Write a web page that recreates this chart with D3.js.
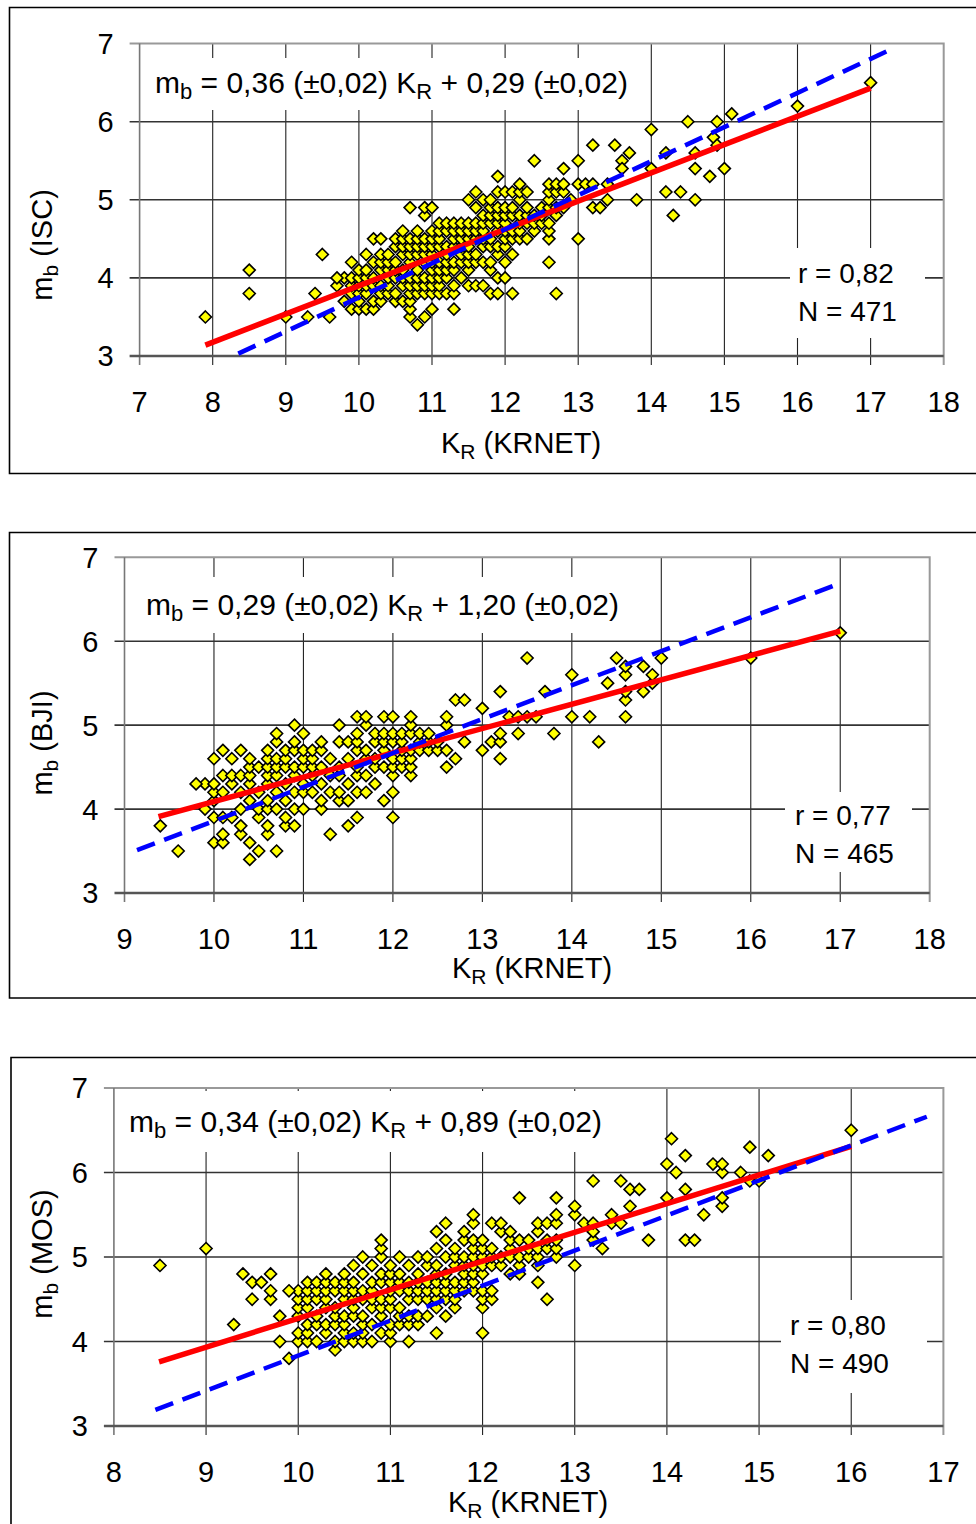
<!DOCTYPE html>
<html>
<head>
<meta charset="utf-8">
<script src="https://cdn.jsdelivr.net/npm/d3@7"></script>
<style>
	body { margin: 0; background: #fff; }
	svg { display: block; font-family: "Liberation Sans", Arial, sans-serif; }
</style>
</head>
<body>
<div id="chart"></div>
<script>
/*
 * mb vs KR (KRNET) scatter plots, three agencies (ISC, BJI, MOS)
 * dense part of each cloud is typed as columns [KR, [mb values]]
 */

// ---- ISC ----
const iscCols = [
	[9.8, [3.7, 4.0]],
	[9.9, [3.6, 3.8, 3.9, 4.0, 4.2]],
	[10.0, [3.6, 3.7, 3.8, 3.9, 4.0, 4.1]],
	[10.1, [3.6, 3.8, 3.9, 4.0, 4.1, 4.3]],
	[10.2, [3.6, 3.7, 3.9, 4.0, 4.2, 4.5]],
	[10.3, [3.7, 3.8, 3.9, 4.1, 4.2, 4.3, 4.5]],
	[10.4, [3.8, 3.9, 4.0, 4.1, 4.2, 4.3]],
	[10.5, [3.7, 3.8, 4.0, 4.1, 4.2, 4.4, 4.5]],
	[10.6, [3.7, 3.9, 4.0, 4.1, 4.3, 4.4, 4.5, 4.6]],
	[10.7, [3.5, 3.6, 3.7, 3.8, 3.9, 4.0, 4.2, 4.3, 4.4, 4.5, 4.9]],
	[10.8, [3.4, 3.8, 3.9, 4.0, 4.1, 4.3, 4.4, 4.5, 4.6]],
	[10.9, [3.5, 3.8, 3.9, 4.0, 4.2, 4.3, 4.4, 4.5, 4.8, 4.9]],
	[11.0, [3.6, 3.8, 3.9, 4.0, 4.1, 4.2, 4.3, 4.4, 4.5, 4.6, 4.9]],
	[11.1, [3.8, 3.9, 4.0, 4.1, 4.2, 4.4, 4.5, 4.6, 4.7]],
	[11.2, [3.8, 4.0, 4.1, 4.2, 4.3, 4.4, 4.6, 4.7]],
	[11.3, [3.6, 3.8, 3.9, 4.1, 4.2, 4.4, 4.5, 4.6, 4.7]],
	[11.4, [4.0, 4.2, 4.3, 4.4, 4.5, 4.6, 4.7]],
	[11.5, [3.9, 4.1, 4.2, 4.3, 4.4, 4.5, 4.6, 4.7, 5.0]],
	[11.6, [3.9, 4.2, 4.3, 4.5, 4.6, 4.7, 4.9, 5.1]],
	[11.7, [3.9, 4.2, 4.4, 4.5, 4.6, 4.7, 4.8, 5.0]],
	[11.8, [3.8, 4.1, 4.2, 4.4, 4.5, 4.7, 4.8, 4.9, 5.0]],
	[11.9, [3.8, 4.0, 4.3, 4.4, 4.6, 4.7, 4.8, 4.9, 5.1, 5.3]],
	[12.0, [4.0, 4.2, 4.4, 4.5, 4.6, 4.7, 4.8, 4.9, 5.1]],
	[12.1, [3.8, 4.3, 4.5, 4.6, 4.8, 4.9, 5.1]],
	[12.2, [4.5, 4.6, 4.7, 4.8, 5.0, 5.1, 5.2]],
	[12.3, [4.5, 4.7, 4.8, 4.9, 5.1]],
	[12.4, [4.6, 4.7, 4.8, 5.5]],
	[12.5, [4.7, 4.8, 4.9]],
	[12.6, [4.2, 4.5, 4.6, 4.7, 4.9, 5.0, 5.1, 5.2]],
	[12.7, [3.8, 4.8, 4.9, 5.1, 5.2]],
	[12.8, [4.9, 5.1, 5.2, 5.4]]
];
const iscPts = [
	[7.9, 3.5], [8.5, 4.1], [8.5, 3.8], [9.0, 3.5], [9.3, 3.5], [9.4, 3.8], [9.5, 4.3],
	[9.6, 3.5], [9.7, 3.9], [9.7, 4.0],
	[12.9, 5.0], [13.0, 5.5], [13.0, 5.2], [13.0, 4.5], [13.1, 5.2], [13.2, 5.7], [13.2, 5.2],
	[13.2, 4.9], [13.3, 4.9], [13.4, 5.0], [13.4, 5.2], [13.5, 5.7], [13.6, 5.5], [13.6, 5.4],
	[13.7, 5.6], [13.8, 5.0], [14.0, 5.9], [14.0, 5.4], [14.2, 5.6], [14.2, 5.1], [14.3, 4.8],
	[14.4, 5.1], [14.5, 6.0], [14.6, 5.6], [14.6, 5.4], [14.6, 5.0], [14.8, 5.3], [14.85, 5.8],
	[14.9, 5.7], [14.9, 6.0], [15.0, 5.4], [15.1, 6.1], [16.0, 6.2], [17.0, 6.5]
];
const iscFit = [[7.9, 3.14], [17.0, 6.43]];
const iscDash = [[8.35, 3.03], [17.22, 6.9]];

// ---- BJI ----
const bjiCols = [
	[9.9, [4.0, 4.3]],
	[10.0, [3.6, 3.9, 4.1, 4.2, 4.3, 4.6]],
	[10.1, [3.6, 3.7, 3.9, 4.2, 4.4, 4.7]],
	[10.2, [3.9, 4.3, 4.4, 4.6]],
	[10.3, [3.7, 3.8, 4.0, 4.2, 4.4, 4.7]],
	[10.4, [3.4, 3.6, 4.1, 4.3, 4.4, 4.5, 4.6]],
	[10.5, [3.5, 3.9, 4.0, 4.2, 4.5]],
	[10.6, [3.7, 3.8, 4.0, 4.1, 4.3, 4.4, 4.5, 4.6, 4.7]],
	[10.7, [3.5, 4.0, 4.2, 4.4, 4.5, 4.6, 4.8, 4.9]],
	[10.8, [3.8, 3.9, 4.1, 4.3, 4.5, 4.6, 4.7]],
	[10.9, [3.8, 4.0, 4.2, 4.4, 4.5, 4.7, 4.8, 5.0]],
	[11.0, [4.0, 4.2, 4.3, 4.5, 4.6, 4.7, 4.9]],
	[11.1, [4.2, 4.4, 4.5, 4.6, 4.7]],
	[11.2, [4.0, 4.1, 4.3, 4.5, 4.7, 4.8]],
	[11.3, [3.7, 4.2, 4.4, 4.6]],
	[11.4, [4.1, 4.2, 4.4, 4.5, 4.8, 5.0]],
	[11.5, [3.8, 4.1, 4.3, 4.6, 4.8]],
	[11.6, [3.9, 4.2, 4.4, 4.5, 4.7, 4.8, 4.9, 5.1]],
	[11.7, [4.2, 4.4, 4.6, 4.7, 5.0, 5.1]],
	[11.8, [4.3, 4.5, 4.6, 4.8, 4.9]],
	[11.9, [4.1, 4.5, 4.7, 4.8, 4.9, 5.1]],
	[12.0, [3.9, 4.2, 4.4, 4.5, 4.6, 4.8, 4.9, 5.1]],
	[12.1, [4.5, 4.6, 4.7, 4.8, 4.9]],
	[12.2, [4.4, 4.5, 4.6, 4.7, 4.9, 5.0, 5.1]],
	[12.3, [4.7, 4.8, 4.9]],
	[12.4, [4.7, 4.8, 4.9]],
	[12.5, [4.7, 4.8]]
];
const bjiPts = [
	[9.4, 3.8], [9.6, 3.5], [9.8, 4.3],
	[12.6, 4.5], [12.6, 4.7], [12.6, 5.0], [12.6, 5.1], [12.7, 4.6], [12.7, 5.3], [12.8, 4.8],
	[12.8, 5.3], [13.0, 4.7], [13.0, 5.2], [13.1, 4.8], [13.2, 4.6], [13.2, 4.8], [13.2, 4.9],
	[13.2, 5.4], [13.3, 5.1], [13.4, 4.9], [13.4, 5.1], [13.5, 5.1], [13.5, 5.8], [13.6, 5.1],
	[13.7, 5.4], [13.8, 4.9], [14.0, 5.1], [14.0, 5.6], [14.2, 5.1], [14.3, 4.8], [14.4, 5.5],
	[14.5, 5.8], [14.6, 5.1], [14.6, 5.3], [14.6, 5.4], [14.6, 5.6], [14.6, 5.7], [14.8, 5.4],
	[14.8, 5.7], [14.9, 5.5], [14.9, 5.6], [15.0, 5.8], [16.0, 5.8], [17.0, 6.1]
];
const bjiFit = [[9.38, 3.91], [17.0, 6.12]];
const bjiDash = [[9.14, 3.51], [17.0, 6.69]];

// ---- MOS ----
const mosCols = [
	[10.0, [4.0, 4.1, 4.3, 4.4, 4.5, 4.6]],
	[10.1, [4.0, 4.1, 4.2, 4.4, 4.5, 4.6, 4.7]],
	[10.2, [4.0, 4.2, 4.3, 4.5, 4.6, 4.7]],
	[10.3, [4.1, 4.2, 4.4, 4.5, 4.6, 4.7, 4.8]],
	[10.4, [3.9, 4.0, 4.2, 4.3, 4.4, 4.6, 4.7]],
	[10.5, [4.0, 4.1, 4.2, 4.3, 4.5, 4.6, 4.7, 4.8]],
	[10.6, [4.0, 4.1, 4.3, 4.4, 4.5, 4.6, 4.7, 4.9]],
	[10.7, [4.0, 4.1, 4.2, 4.3, 4.5, 4.6, 4.8, 5.0]],
	[10.8, [4.0, 4.2, 4.4, 4.5, 4.6, 4.7, 4.9]],
	[10.9, [4.1, 4.3, 4.4, 4.5, 4.7, 4.8, 5.0, 5.1, 5.2]],
	[11.0, [4.0, 4.1, 4.2, 4.4, 4.5, 4.6, 4.7, 4.8, 4.9]],
	[11.1, [4.2, 4.3, 4.4, 4.6, 4.7, 4.8, 5.0]],
	[11.2, [4.0, 4.2, 4.3, 4.5, 4.6, 4.7, 4.9]],
	[11.3, [4.2, 4.3, 4.5, 4.6, 4.7, 4.8, 5.0]],
	[11.4, [4.3, 4.5, 4.6, 4.7, 4.9, 5.0]],
	[11.5, [4.1, 4.4, 4.5, 4.6, 4.7, 4.8, 4.9, 5.1, 5.3]],
	[11.6, [4.3, 4.5, 4.6, 4.7, 4.8, 5.0, 5.2, 5.4]],
	[11.7, [4.4, 4.5, 4.6, 4.7, 4.9, 5.0, 5.1]],
	[11.8, [4.6, 4.7, 4.8, 4.9, 5.0, 5.2, 5.3]],
	[11.9, [4.6, 4.7, 4.8, 4.9, 5.0, 5.1, 5.2, 5.4, 5.5]],
	[12.0, [4.1, 4.4, 4.5, 4.6, 4.8, 4.9, 5.0, 5.1, 5.2]],
	[12.1, [4.5, 4.6, 4.9, 5.0, 5.1, 5.4]],
	[12.2, [4.9, 5.0, 5.3, 5.4]],
	[12.3, [4.8, 5.0, 5.1, 5.2, 5.3]],
	[12.4, [4.8, 4.9, 5.0, 5.2, 5.7]],
	[12.5, [5.0, 5.1, 5.2]],
	[12.6, [4.7, 4.9, 5.0, 5.1, 5.3, 5.4]],
	[12.7, [4.5, 5.1, 5.2, 5.4]],
	[12.8, [5.0, 5.1, 5.2, 5.4, 5.5, 5.7]]
];
const mosPts = [
	[8.5, 4.9], [9.0, 5.1], [9.3, 4.2], [9.4, 4.8], [9.5, 4.5], [9.5, 4.7], [9.6, 4.7],
	[9.7, 4.5], [9.7, 4.6], [9.7, 4.8], [9.8, 4.0], [9.8, 4.3], [9.9, 3.8], [9.9, 4.6],
	[13.0, 4.9], [13.0, 5.5], [13.0, 5.6], [13.1, 5.4], [13.2, 5.2], [13.2, 5.3], [13.2, 5.4],
	[13.2, 5.9], [13.3, 5.1], [13.4, 5.4], [13.4, 5.5], [13.5, 5.4], [13.5, 5.9], [13.6, 5.6],
	[13.6, 5.8], [13.7, 5.8], [13.8, 5.2], [14.0, 5.7], [14.0, 6.1], [14.05, 6.4], [14.1, 6.0],
	[14.2, 5.2], [14.2, 5.8], [14.2, 6.2], [14.3, 5.2], [14.4, 5.5], [14.5, 6.1], [14.6, 5.6],
	[14.6, 5.7], [14.6, 6.0], [14.6, 6.1], [14.8, 6.0], [14.9, 5.9], [14.9, 6.3], [15.0, 5.9],
	[15.1, 6.2], [16.0, 6.5]
];
const mosFit = [[8.49, 3.76], [16.0, 6.31]];
const mosDash = [[8.45, 3.19], [16.82, 6.66]];

const yTicks = [3, 4, 5, 6, 7];
const iscXTicks = [7, 8, 9, 10, 11, 12, 13, 14, 15, 16, 17, 18];
const bjiXTicks = [9, 10, 11, 12, 13, 14, 15, 16, 17, 18];
const mosXTicks = [8, 9, 10, 11, 12, 13, 14, 15, 16, 17];


const FONT = 29;
const svg = d3.select("#chart")
			  .append("svg")
			  .attr("width", 976)
			  .attr("height", 1524);

/* Expands [x, [ys]] columns into a flat list of points */
function expand(cols, pts) {
	var out = [];
	cols.forEach(function(c) {
		c[1].forEach(function(v) { out.push([c[0], v]); });
	});
	return out.concat(pts);
}

/* Appends text made of [string, isSubscript] parts */
function richText(sel, parts, size) {
	var t = sel.append("text").attr("font-size", size + "px").attr("fill", "#000");
	var shifted = false;
	parts.forEach(function(p) {
		var s = t.append("tspan").text(p[0]);
		if (p[1]) {
			s.attr("font-size", Math.round(size * 0.72) + "px").attr("dy", 6);
			shifted = true;
		} else if (shifted) {
			s.attr("dy", -6);
			shifted = false;
		}
	});
	return t;
}

function drawPanel(p) {
	const g = svg.append("g");
	const x = d3.scaleLinear().domain(p.xDomain).range([p.left, p.right]);
	const y = d3.scaleLinear().domain([3, 7]).range([p.bottom, p.top]);

	// outer frame (right side runs off the page)
	g.append("path")
	 .attr("d", "M985," + p.frame[1] + "H" + p.frame[0] + "V" + p.frame[2] + "H985")
	 .attr("fill", "none")
	 .attr("stroke", "#000")
	 .attr("stroke-width", 1.6);

	// vertical grid
	g.selectAll(".vg")
	 .data(p.xTicks.slice(1, -1))
	 .enter().append("line")
	 .attr("x1", d => x(d)).attr("x2", d => x(d))
	 .attr("y1", p.top).attr("y2", p.bottom + 9)
	 .attr("stroke", "#222")
	 .attr("stroke-width", 1.1);

	// horizontal grid
	g.selectAll(".hg")
	 .data([4, 5, 6])
	 .enter().append("line")
	 .attr("x1", p.left - 10).attr("x2", p.right)
	 .attr("y1", d => y(d)).attr("y2", d => y(d))
	 .attr("stroke", "#333")
	 .attr("stroke-width", 1.6);

	// top and right border
	g.append("path")
	 .attr("d", "M" + (p.left - 10) + "," + y(7) + "H" + p.right + "V" + (p.bottom + 9))
	 .attr("fill", "none")
	 .attr("stroke", "#999")
	 .attr("stroke-width", 2);

	// axes
	g.append("line")
	 .attr("x1", p.left).attr("x2", p.left)
	 .attr("y1", p.top).attr("y2", p.bottom + 9)
	 .attr("stroke", "#777")
	 .attr("stroke-width", 1.6);
	g.append("line")
	 .attr("x1", p.left - 10).attr("x2", p.right)
	 .attr("y1", p.bottom).attr("y2", p.bottom)
	 .attr("stroke", "#555")
	 .attr("stroke-width", 2.6);

	// white boxes behind the labels
	p.boxes.forEach(function(b) {
		g.append("rect")
		 .attr("x", b[0]).attr("y", b[1])
		 .attr("width", b[2] - b[0]).attr("height", b[3] - b[1])
		 .attr("fill", "#fff");
	});

	// tick labels
	g.selectAll(".xl")
	 .data(p.xTicks)
	 .enter().append("text")
	 .attr("x", d => x(d))
	 .attr("y", p.bottom + 56)
	 .attr("text-anchor", "middle")
	 .attr("font-size", FONT + "px")
	 .text(d => d);
	g.selectAll(".yl")
	 .data(yTicks)
	 .enter().append("text")
	 .attr("x", p.left - 26)
	 .attr("y", d => y(d))
	 .attr("dy", "0.36em")
	 .attr("text-anchor", "end")
	 .attr("font-size", FONT + "px")
	 .text(d => d);

	// points
	const diamond = "M0,-6L6,0L0,6L-6,0Z";
	g.selectAll(".pt")
	 .data(p.points)
	 .enter().append("path")
	 .attr("d", diamond)
	 .attr("transform", d => "translate(" + x(d[0]) + "," + y(d[1]) + ")")
	 .attr("fill", "#ffff00")
	 .attr("stroke", "#000")
	 .attr("stroke-width", 1.6);

	// regression lines
	const line = d3.line().x(d => x(d[0])).y(d => y(d[1]));
	g.append("path")
	 .attr("d", line(p.fit))
	 .attr("fill", "none")
	 .attr("stroke", "#ff0000")
	 .attr("stroke-width", 5.5);
	g.append("path")
	 .attr("d", line(p.dash))
	 .attr("fill", "none")
	 .attr("stroke", "#0000ff")
	 .attr("stroke-width", 4.5)
	 .attr("stroke-dasharray", "19,10");

	// equation
	richText(g, p.eq, 30).attr("x", p.eqPos[0]).attr("y", p.eqPos[1]);

	// r and N
	g.append("text").attr("x", p.rPos[0]).attr("y", p.rPos[1])
	 .attr("font-size", "28px").text(p.r);
	g.append("text").attr("x", p.rPos[0]).attr("y", p.rPos[1] + 38)
	 .attr("font-size", "28px").text(p.n);

	// axis titles
	richText(g, [["K", false], ["R", true], [" (KRNET)", false]], FONT)
		.attr("x", p.xTitle[0]).attr("y", p.xTitle[1])
		.attr("text-anchor", "middle");
	richText(g, [["m", false], ["b", true], [" (" + p.agency + ")", false]], FONT)
		.attr("transform", "translate(" + p.yTitle[0] + "," + p.yTitle[1] + ") rotate(-90)")
		.attr("text-anchor", "middle");
}

drawPanel({
	agency: "ISC",
	xDomain: [7, 18], xTicks: iscXTicks,
	left: 139.6, right: 943.7, top: 43.6, bottom: 356,
	frame: [9.5, 7.5, 473.5],
	points: expand(iscCols, iscPts),
	fit: iscFit, dash: iscDash,
	boxes: [[146, 58, 640, 110], [790, 248, 925, 338]],
	eq: [["m", false], ["b", true], [" = 0,36 (±0,02) K", false], ["R", true], [" + 0,29 (±0,02)", false]],
	eqPos: [155, 93],
	r: "r = 0,82", n: "N = 471", rPos: [798, 283],
	xTitle: [521, 453], yTitle: [52, 245]
});

drawPanel({
	agency: "BJI",
	xDomain: [9, 18], xTicks: bjiXTicks,
	left: 124.5, right: 929.7, top: 557.3, bottom: 893,
	frame: [9.5, 532.5, 998],
	points: expand(bjiCols, bjiPts),
	fit: bjiFit, dash: bjiDash,
	boxes: [[136, 577, 635, 633], [785, 792, 912, 872]],
	eq: [["m", false], ["b", true], [" = 0,29 (±0,02) K", false], ["R", true], [" + 1,20 (±0,02)", false]],
	eqPos: [146, 615],
	r: "r = 0,77", n: "N = 465", rPos: [795, 825],
	xTitle: [532, 978], yTitle: [52, 743]
});

drawPanel({
	agency: "MOS",
	xDomain: [8, 17], xTicks: mosXTicks,
	left: 113.9, right: 943.4, top: 1088, bottom: 1426,
	frame: [11, 1057.5, 1540],
	points: expand(mosCols, mosPts),
	fit: mosFit, dash: mosDash,
	boxes: [[120, 1091, 615, 1152], [781, 1300, 927, 1393]],
	eq: [["m", false], ["b", true], [" = 0,34 (±0,02) K", false], ["R", true], [" + 0,89 (±0,02)", false]],
	eqPos: [129, 1132],
	r: "r = 0,80", n: "N = 490", rPos: [790, 1335],
	xTitle: [528, 1512], yTitle: [52, 1254]
});
</script>
</body>
</html>
